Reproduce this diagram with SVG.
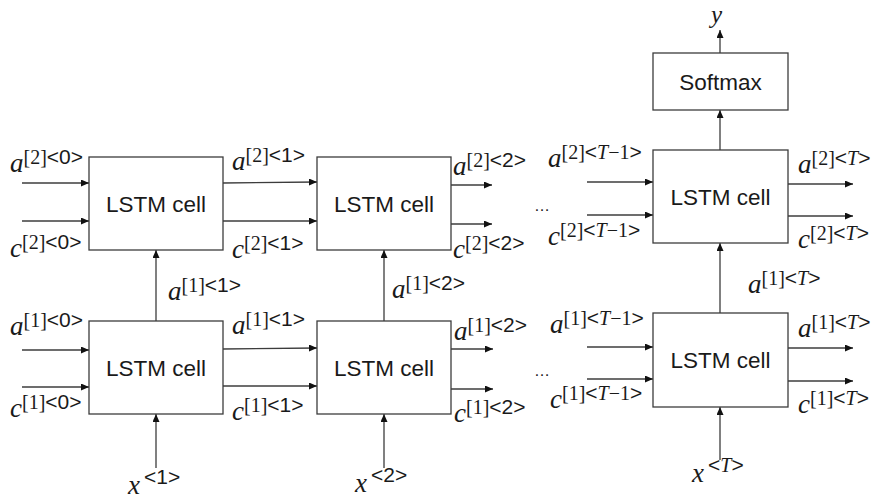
<svg xmlns="http://www.w3.org/2000/svg" width="875" height="502" viewBox="0 0 875 502">
<style>
.box{fill:#fff;stroke:#3c3c3c;stroke-width:1.3}
.lbl{font-family:"Liberation Sans",Arial,sans-serif;font-size:22.5px;fill:#1a1a1a;text-anchor:middle}
.c line{stroke:#3c3c3c;stroke-width:1.3;marker-end:url(#ah)}
.m{font-family:"Liberation Serif","Times New Roman",serif;font-style:italic;font-size:27px;fill:#1a1a1a}
.s{font-family:"Liberation Serif","Times New Roman",serif;font-style:normal;font-size:20px}
.g{font-family:"Liberation Sans",Arial,sans-serif;font-style:normal;font-size:21px}
.i{font-style:italic}
.dots{font-family:"Liberation Sans",Arial,sans-serif;font-size:16px;fill:#1a1a1a}
</style>
<defs>
<marker id="ah" markerWidth="9" markerHeight="8" refX="8" refY="3.5" orient="auto" markerUnits="userSpaceOnUse">
<path d="M0,0 L8,3.5 L0,7 z" fill="#111"/>
</marker>
</defs>
<rect width="875" height="502" fill="#fff"/>
<g class="c" id="connectors">
<line x1="22" y1="183" x2="89" y2="183"/>
<line x1="22" y1="221" x2="89" y2="221"/>
<line x1="223" y1="183" x2="317" y2="182"/>
<line x1="223" y1="221" x2="317" y2="221"/>
<line x1="451" y1="185" x2="492" y2="185"/>
<line x1="451" y1="224" x2="492" y2="224"/>
<line x1="587" y1="182" x2="653" y2="182"/>
<line x1="587" y1="215" x2="653" y2="215"/>
<line x1="788" y1="184" x2="853" y2="184"/>
<line x1="788" y1="216" x2="853" y2="216"/>
<line x1="720" y1="150" x2="720" y2="110"/>
<line x1="720" y1="53" x2="720" y2="30"/>
<line x1="22" y1="350" x2="89" y2="350"/>
<line x1="22" y1="387" x2="89" y2="387"/>
<line x1="223" y1="349" x2="317" y2="348"/>
<line x1="223" y1="386" x2="317" y2="386"/>
<line x1="451" y1="349" x2="493" y2="349"/>
<line x1="451" y1="389" x2="493" y2="389"/>
<line x1="587" y1="347" x2="653" y2="347"/>
<line x1="587" y1="379" x2="653" y2="379"/>
<line x1="788" y1="348" x2="853" y2="348"/>
<line x1="788" y1="381" x2="853" y2="381"/>
<line x1="156" y1="321" x2="156" y2="250"/>
<line x1="384" y1="321" x2="384" y2="250"/>
<line x1="720" y1="313" x2="720" y2="243"/>
<line x1="156" y1="468" x2="156" y2="414"/>
<line x1="384" y1="468" x2="384" y2="414"/>
<line x1="720" y1="460" x2="720" y2="407"/>
</g>
<g id="lstm21"><rect class="box" x="89" y="157" width="134" height="93"/><text class="lbl" x="156" y="212">LSTM cell</text></g>
<g id="lstm22"><rect class="box" x="317" y="157" width="134" height="93"/><text class="lbl" x="384" y="212">LSTM cell</text></g>
<g id="lstm2T"><rect class="box" x="653" y="150" width="135" height="93"/><text class="lbl" x="720.5" y="205">LSTM cell</text></g>
<g id="softmax"><rect class="box" x="653" y="53" width="135" height="57"/><text class="lbl" x="720.5" y="90">Softmax</text></g>
<g id="lstm11"><rect class="box" x="89" y="321" width="134" height="93"/><text class="lbl" x="156" y="376">LSTM cell</text></g>
<g id="lstm12"><rect class="box" x="317" y="321" width="134" height="93"/><text class="lbl" x="384" y="376">LSTM cell</text></g>
<g id="lstm1T"><rect class="box" x="653" y="313" width="135" height="94"/><text class="lbl" x="720.5" y="368">LSTM cell</text></g>
<g id="labels">
<text class="m" x="10" y="172">a<tspan class="s" dy="-8">[2]</tspan><tspan class="g">&lt;0&gt;</tspan></text>
<text class="m" x="10" y="257">c<tspan class="s" dy="-8">[2]</tspan><tspan class="g">&lt;0&gt;</tspan></text>
<text class="m" x="232" y="170">a<tspan class="s" dy="-8">[2]</tspan><tspan class="g">&lt;1&gt;</tspan></text>
<text class="m" x="232" y="258">c<tspan class="s" dy="-8">[2]</tspan><tspan class="g">&lt;1&gt;</tspan></text>
<text class="m" x="453" y="175">a<tspan class="s" dy="-8">[2]</tspan><tspan class="g">&lt;2&gt;</tspan></text>
<text class="m" x="453" y="258">c<tspan class="s" dy="-8">[2]</tspan><tspan class="g">&lt;2&gt;</tspan></text>
<text class="m" x="548" y="167">a<tspan class="s" dy="-8">[2]</tspan><tspan class="g">&lt;</tspan><tspan class="s i">T</tspan><tspan class="s">−1</tspan><tspan class="g">&gt;</tspan></text>
<text class="m" x="548" y="245">c<tspan class="s" dy="-8">[2]</tspan><tspan class="g">&lt;</tspan><tspan class="s i">T</tspan><tspan class="s">−1</tspan><tspan class="g">&gt;</tspan></text>
<text class="m" x="798" y="173">a<tspan class="s" dy="-8">[2]</tspan><tspan class="g">&lt;</tspan><tspan class="s i">T</tspan><tspan class="g">&gt;</tspan></text>
<text class="m" x="798" y="248">c<tspan class="s" dy="-8">[2]</tspan><tspan class="g">&lt;</tspan><tspan class="s i">T</tspan><tspan class="g">&gt;</tspan></text>
<text class="m" x="711" y="23" style="font-size:25px">y</text>
<text class="m" x="168" y="300">a<tspan class="s" dy="-8">[1]</tspan><tspan class="g">&lt;1&gt;</tspan></text>
<text class="m" x="10" y="335">a<tspan class="s" dy="-8">[1]</tspan><tspan class="g">&lt;0&gt;</tspan></text>
<text class="m" x="10" y="417">c<tspan class="s" dy="-8">[1]</tspan><tspan class="g">&lt;0&gt;</tspan></text>
<text class="m" x="232" y="334">a<tspan class="s" dy="-8">[1]</tspan><tspan class="g">&lt;1&gt;</tspan></text>
<text class="m" x="232" y="420">c<tspan class="s" dy="-8">[1]</tspan><tspan class="g">&lt;1&gt;</tspan></text>
<text class="m" x="392" y="298">a<tspan class="s" dy="-8">[1]</tspan><tspan class="g">&lt;2&gt;</tspan></text>
<text class="m" x="454" y="340">a<tspan class="s" dy="-8">[1]</tspan><tspan class="g">&lt;2&gt;</tspan></text>
<text class="m" x="454" y="422">c<tspan class="s" dy="-8">[1]</tspan><tspan class="g">&lt;2&gt;</tspan></text>
<text class="m" x="128" y="494">x<tspan class="g" dx="4" dy="-10">&lt;1&gt;</tspan></text>
<text class="m" x="355" y="492">x<tspan class="g" dx="4" dy="-10">&lt;2&gt;</tspan></text>
<text class="m" x="748" y="293">a<tspan class="s" dy="-8">[1]</tspan><tspan class="g">&lt;</tspan><tspan class="s i">T</tspan><tspan class="g">&gt;</tspan></text>
<text class="m" x="550" y="333">a<tspan class="s" dy="-8">[1]</tspan><tspan class="g">&lt;</tspan><tspan class="s i">T</tspan><tspan class="s">−1</tspan><tspan class="g">&gt;</tspan></text>
<text class="m" x="550" y="408">c<tspan class="s" dy="-8">[1]</tspan><tspan class="g">&lt;</tspan><tspan class="s i">T</tspan><tspan class="s">−1</tspan><tspan class="g">&gt;</tspan></text>
<text class="m" x="798" y="337">a<tspan class="s" dy="-8">[1]</tspan><tspan class="g">&lt;</tspan><tspan class="s i">T</tspan><tspan class="g">&gt;</tspan></text>
<text class="m" x="798" y="413">c<tspan class="s" dy="-8">[1]</tspan><tspan class="g">&lt;</tspan><tspan class="s i">T</tspan><tspan class="g">&gt;</tspan></text>
<text class="m" x="692" y="482">x<tspan class="g" dx="4" dy="-10">&lt;</tspan><tspan class="s i">T</tspan><tspan class="g">&gt;</tspan></text>
<text class="dots" x="534" y="211">…</text>
<text class="dots" x="534" y="376">…</text>
</g>
</svg>
